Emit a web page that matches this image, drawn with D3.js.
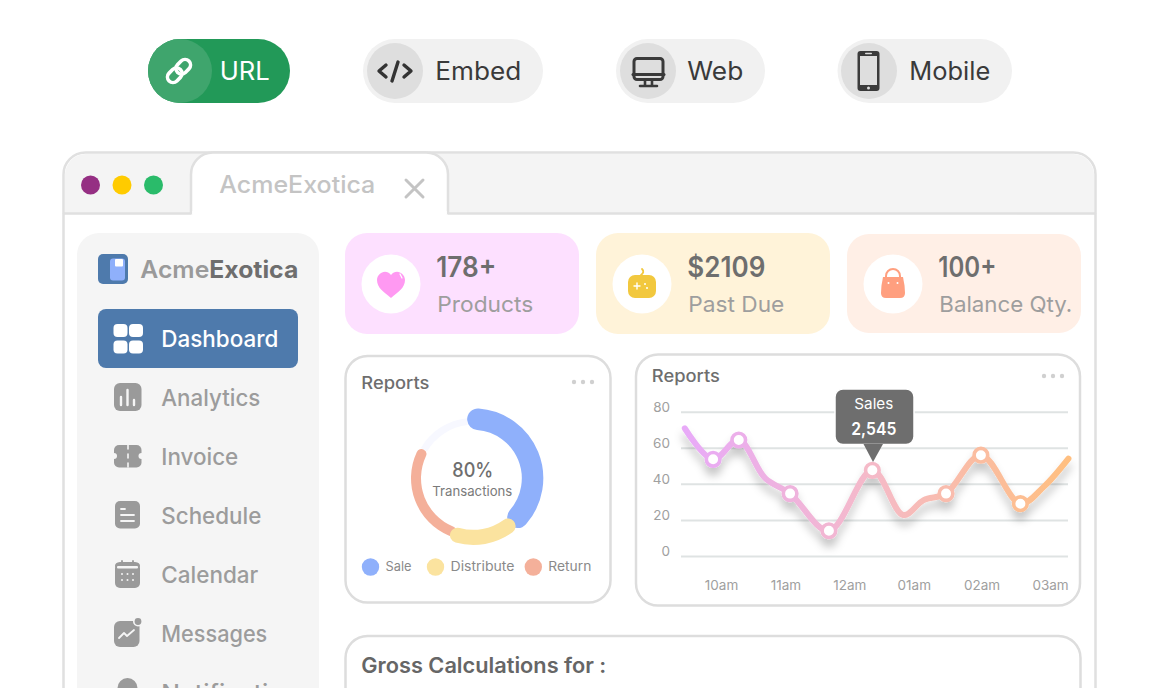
<!DOCTYPE html>
<html>
<head>
<meta charset="utf-8">
<script src="https://cdn.jsdelivr.net/npm/d3@7"></script>
<style>
body { margin: 0; background: #fff; overflow: hidden; }
text { font-family: Inter, "Open Sans", sans-serif; }
</style>
</head>
<body>
<script>
// line chart values (hour of day, sales)
var lineHours = [9.45, 9.88, 10.27, 10.67, 11.05, 11.64, 12.3, 12.77, 13.08, 13.42, 13.95, 14.55, 14.9, 15.28];
var lineValues = [70.8, 53.6, 64.3, 43.2, 34.6, 14, 47.5, 22.7, 31, 34.6, 55.9, 29, 38.2, 54];
var markerIndex = [1, 2, 4, 5, 6, 9, 10, 11];
var yTicks = [0, 20, 40, 60, 80];
var xTickHours = [10, 10.98, 11.95, 12.93, 13.96, 15];
var xTickLabels = ["10am", "11am", "12am", "01am", "02am", "03am"];

// donut values
var donutNames = ["Sale", "Distribute", "Return"];
var donutValues = [41, 17, 27, 15];

// text content
var buttonLabels = ["URL", "Embed", "Web", "Mobile"];
var navLabels = ["Dashboard", "Analytics", "Invoice", "Schedule", "Calendar", "Messages", "Notifications"];
var statValues = ["178+", "$2109", "100+"];
var statLabels = ["Products", "Past Due", "Balance Qty."];

var svg = d3.select("body").append("svg")
    .attr("width", 1160)
    .attr("height", 688)
    .style("display", "block");

var defs = svg.append("defs");

// helpers
function rect(g, x, y, w, h, r, fill, stroke, sw) {
    return g.append("rect")
        .attr("x", x).attr("y", y)
        .attr("width", w).attr("height", h)
        .attr("rx", r)
        .attr("fill", fill)
        .attr("stroke", stroke || "none")
        .attr("stroke-width", sw || 0);
}

function circle(g, x, y, r, fill) {
    return g.append("circle").attr("cx", x).attr("cy", y).attr("r", r).attr("fill", fill);
}

// the reference font is wider than what we have, so widths are pinned
function label(g, x, y, str, size, color, weight, width) {
    var t = g.append("text")
        .attr("x", x - 0.7).attr("y", y)
        .attr("font-size", size)
        .attr("font-weight", weight || 400)
        .attr("fill", color)
        .text(str);
    if (width) t.attr("textLength", width).attr("lengthAdjust", "spacingAndGlyphs");
    return t;
}

function path(g, d, fill, stroke, sw) {
    return g.append("path")
        .attr("d", d)
        .attr("fill", fill || "none")
        .attr("stroke", stroke || "none")
        .attr("stroke-width", sw || 0)
        .attr("stroke-linecap", "round")
        .attr("stroke-linejoin", "round");
}

// top buttons
var top_ = svg.append("g");
rect(top_, 148, 39, 142, 64, 32, "#229958");
path(top_, "M180,39 A32,32 0 0 0 180,103 A32,32 0 0 0 180,39 Z", "#3fa56d");
var buttonX = [220.5, 436, 688, 910];
var buttonW = [50, 86, 56, 81];
var pills = [[363, 180, 395], [616, 149, 648], [837.5, 174.5, 869]];
pills.forEach(function(p) {
    rect(top_, p[0], 39, p[1], 64, 32, "#f1f1f1");
    circle(top_, p[2], 71, 28, "#dedede");
});
buttonLabels.forEach(function(d, i) {
    label(top_, buttonX[i], 80, d, 25, i == 0 ? "#fff" : "#3a3a3a", 400, buttonW[i]);
});
// link icon
var link = top_.append("g").attr("transform", "translate(179,71) rotate(-45)");
rect(link, -14, -5.5, 16, 11, 5.5, "none", "#fff", 3.6);
rect(link, -2, -5.5, 16, 11, 5.5, "none", "#fff", 3.6);
// code icon
path(top_, "M386,65 L379,71 L386,77 M404,65 L411,71 L404,77 M398,62 L392,81", "none", "#333", 3.4);
// monitor icon
rect(top_, 634, 58.5, 29, 21, 3, "none", "#3a3a3a", 3);
path(top_, "M633,74.5 H664", "none", "#3a3a3a", 3);
path(top_, "M645,81 V85 M652,81 V85 M640,86 H657", "none", "#3a3a3a", 2.6);
// phone icon
rect(top_, 857.5, 51, 22, 40, 3, "#3a3a3a");
rect(top_, 860, 56, 17, 29, 0, "#dedede");
circle(top_, 868.5, 88, 1.5, "#dedede");
rect(top_, 865, 52.8, 7, 1.5, 0.7, "#dedede");

// browser window
var win = svg.append("g");
path(win, "M63.5,700 V175 A22,22 0 0 1 85.5,152.5 H1073.5 A22,22 0 0 1 1095.5,175 V700 Z", "#fff", "#e0e0e0", 2.5);
path(win, "M65,213 V175 A21,21 0 0 1 86,154 H1073 A21,21 0 0 1 1094,175 V213 Z", "#f4f4f4");
path(win, "M64,213.5 H1095", "none", "#e0e0e0", 2.5);
path(win, "M191,214.5 V175 A22,22 0 0 1 213,153 H426 A22,22 0 0 1 448,175 V214.5 Z", "#fff");
path(win, "M191,213 V175 A22,22 0 0 1 213,152.5 H426 A22,22 0 0 1 448,175 V213", "none", "#e0e0e0", 2.5);
rect(win, 192.3, 211, 254.4, 5, 0, "#fff");
circle(win, 90.5, 185, 9.5, "#952f83");
circle(win, 122, 185, 9.5, "#ffcb00");
circle(win, 153.5, 185, 9.5, "#2abb6a");
label(win, 220, 193, "AcmeExotica", 24, "#c4c4c4", 500, 156);
path(win, "M406,180 L423,197 M423,180 L406,197", "none", "#c4c4c4", 3);

// sidebar
var side = svg.append("g");
rect(side, 77, 233, 242, 480, 22, "#f5f5f5");
rect(side, 98, 254, 30, 30, 5, "#4e7aac");
rect(side, 110, 258.5, 15, 22, 3, "#8fb0fb");
rect(side, 115, 259, 8, 7.5, 1, "#fff");
label(side, 141, 278, "Acme", 24, "#9a9a9a", 600, 69);
label(side, 210, 278, "Exotica", 24, "#6e6e6e", 700, 89);
rect(side, 98, 309, 200, 59, 8, "#4e7aac");

var navBase = d3.scaleLinear().domain([0, 1]).range([347, 406]);
navLabels.forEach(function(d, i) {
    var widths = [117, 99, 77, 100, 97, 106, 150];
    label(side, 162, navBase(i), d, 23, i == 0 ? "#fff" : "#9c9c9c", 500, widths[i]);
});

// sidebar icons
[[113.5, 324], [129, 324], [113.5, 340.5], [129, 340.5]].forEach(function(p) {
    rect(side, p[0], p[1], 14, 13, 4, "#fff");
});
var grey = "#9a9a9a";
rect(side, 114, 383, 27.5, 28, 6, grey);
path(side, "M121,397 V405 M127.5,390 V405 M134,400 V405", "none", "#f5f5f5", 2.4);
rect(side, 114, 445, 27.5, 22.5, 5, grey);
circle(side, 114, 456, 3, "#f5f5f5");
circle(side, 141.5, 456, 3, "#f5f5f5");
path(side, "M128,445 V449 M128,454 V458 M128,463 V467", "none", "#f5f5f5", 1.6);
rect(side, 115, 501, 25, 27.5, 5, grey);
path(side, "M121,509 H125 M121,515 H134 M121,521 H134", "none", "#f5f5f5", 1.8);
rect(side, 115, 563, 25, 25, 5, grey);
path(side, "M116,566 A5,3 0 0 1 120,563 H135 A5,3 0 0 1 139,566", "none", grey, 2);
path(side, "M122,561 V565 M133,561 V565", "none", grey, 1.8);
rect(side, 117, 566, 21, 2.5, 1, "#f5f5f5");
[[122, 574], [127.5, 574], [133, 574], [122, 580], [127.5, 580], [133, 580]].forEach(function(p) {
    circle(side, p[0], p[1], 1, "#f5f5f5");
});
rect(side, 114, 621, 25.5, 26, 6, grey);
circle(side, 138, 621.5, 5, "#f5f5f5");
circle(side, 138, 621.5, 3.4, grey);
path(side, "M119,638 L124,633 L127,636 L134,630", "none", "#f5f5f5", 1.8);
circle(side, 127.5, 688, 10, grey);

// stat cards
var cardX = [345, 596, 847];
var cardFill = ["#fde0ff", "#fff3d9", "#ffefe6"];
var valueW = [60, 78, 58];
var nameW = [96, 96, 133];
var stats = svg.append("g");
cardX.forEach(function(x, i) {
    rect(stats, x, i == 2 ? 234 : 233, 234, i == 2 ? 99 : 101, 22, cardFill[i]);
    circle(stats, x + 46, 284, 29.5, "#fff");
    label(stats, x + 92, 277, statValues[i], 28, "#6e6e6e", 600, valueW[i]);
    label(stats, x + 93, 312, statLabels[i], 22, "#9e9e9e", 400, nameW[i]);
});
path(stats, "M391,298 C384,292 377,288 377,280 C377,273 386,268 391,275 C396,268 405,273 405,280 C405,288 398,292 391,298 Z", "#ff99f2");
path(stats, "M400,274 L402,278", "none", "#fff", 1.2);
rect(stats, 628, 275, 28, 23, 7, "#f2c83e");
path(stats, "M641,275 Q645,272 642,269", "none", "#f2c83e", 1.8);
path(stats, "M634,286 H640 M637,283 V289", "none", "#fff", 1.4);
circle(stats, 645, 284, 1, "#fff");
circle(stats, 647, 288, 1, "#fff");
path(stats, "M886,280 V276 A7,7 0 0 1 900,276 V280", "none", "#ff9f7f", 2);
path(stats, "M883,277 H903 Q905,286 905,293 Q905,298 900,298 H886 Q881,298 881,293 Q881,286 883,277 Z", "#ff9f7f");
circle(stats, 888.5, 283, 1, "#fff");
circle(stats, 897.5, 283, 1, "#fff");

// panels
function panel(x, y, w, h, title, titleY, dotsX, dotsY) {
    var g = svg.append("g");
    rect(g, x, y, w, h, 22, "#fff", "#dddddd", 2.5);
    label(g, x + 16.5, titleY, title, 17, "#6e6e6e", 500, 68);
    [0, 9, 18].forEach(function(dx) {
        circle(g, dotsX + dx, dotsY, 2.2, "#d0d0d0");
    });
    return g;
}

// donut
var donutPanel = panel(345.5, 356, 265, 246.5, "Reports", 389, 574, 382);
var donutG = donutPanel.append("g").attr("transform", "translate(473.3,478.3)");
var donutColor = ["#8fb0fb", "#fbe39f", "#f4b09a", "#f7f8ff"];
var inner = [48.5, 51.5, 52.3, 53.5];
var outer = [70, 66.7, 62.3, 60.5];
var startOverlap = [0, 5, 5, 0];
var slices = d3.pie().sort(null).startAngle(-6 * Math.PI / 180).endAngle(354 * Math.PI / 180)(donutValues);
[3, 2, 0, 1].forEach(function(i) {
    var s = slices[i];
    donutG.append("path")
        .attr("d", d3.arc()
            .innerRadius(inner[i])
            .outerRadius(outer[i])
            .cornerRadius(i == 3 ? 0 : (outer[i] - inner[i]) / 2)
            .startAngle(s.startAngle - startOverlap[i] * Math.PI / 180)
            .endAngle(s.endAngle)())
        .attr("fill", donutColor[i]);
});
label(donutPanel, 453, 477, "80%", 20, "#6e6e6e", 500, 41);
label(donutPanel, 433, 496, "Transactions", 13.5, "#7a7a7a", 400, 80);
var legendX = [370.5, 435.5, 533.3];
var legendW = [26, 64, 43];
donutNames.forEach(function(d, i) {
    circle(donutPanel, legendX[i], 567, 8.7, donutColor[i]);
    label(donutPanel, legendX[i] + 15.7, 571, d, 13, "#8a8a8a", 400, legendW[i]);
});

// line chart
var linePanel = panel(636, 354.5, 444, 251, "Reports", 382, 1044, 376);

var x = d3.scaleLinear().domain([10, 15]).range([721, 1050]);
var y = d3.scaleLinear().domain([0, 80]).range([556, 411.7]);

var yAxis = d3.axisLeft(y).tickValues(yTicks).tickSize(-387).tickPadding(11);
var yG = linePanel.append("g").attr("transform", "translate(681,0)").call(yAxis);
yG.select(".domain").remove();
yG.selectAll("line").attr("stroke", "#dfe3e3").attr("stroke-width", 2);
yG.selectAll("text")
    .attr("dy", "-0.02em")
    .attr("font-size", 13.5)
    .attr("font-family", "Inter, sans-serif")
    .attr("fill", "#a0a0a0");

var xAxis = d3.axisBottom(x).tickValues(xTickHours).tickSize(0).tickPadding(0)
    .tickFormat(function(d, i) { return xTickLabels[i]; });
var xG = linePanel.append("g").attr("transform", "translate(0,580)").call(xAxis);
xG.select(".domain").remove();
xG.selectAll("text")
    .attr("font-size", 13.5)
    .attr("font-family", "Inter, sans-serif")
    .attr("fill", "#a0a0a0");

var lineColor = d3.scaleLinear()
    .domain([9.45, 12.3, 15.28])
    .range(["#e8aaf8", "#f5bac8", "#ffbf80"]);

var grad = defs.append("linearGradient")
    .attr("id", "lineGrad")
    .attr("gradientUnits", "userSpaceOnUse")
    .attr("x1", x(9.45)).attr("x2", x(15.28))
    .attr("y1", 0).attr("y2", 0);
[9.45, 12.3, 15.28].forEach(function(h) {
    grad.append("stop")
        .attr("offset", (x(h) - x(9.45)) / (x(15.28) - x(9.45)))
        .attr("stop-color", lineColor(h));
});

var shadow = defs.append("filter")
    .attr("id", "lineShadow")
    .attr("filterUnits", "userSpaceOnUse")
    .attr("x", 660).attr("y", 400).attr("width", 430).attr("height", 180);
shadow.append("feDropShadow")
    .attr("dx", 0).attr("dy", 8)
    .attr("stdDeviation", 4.5)
    .attr("flood-color", "#000")
    .attr("flood-opacity", 0.22);

var lineGen = d3.line()
    .x(function(d) { return x(d[0]); })
    .y(function(d) { return y(d[1]); })
    .curve(d3.curveCatmullRom.alpha(0.5));

var pts = d3.zip(lineHours, lineValues);
var plot = linePanel.append("g").attr("filter", "url(#lineShadow)");
plot.append("path")
    .attr("d", lineGen(pts))
    .attr("fill", "none")
    .attr("stroke", "url(#lineGrad)")
    .attr("stroke-width", 6)
    .attr("stroke-linecap", "round");

plot.selectAll("circle")
    .data(markerIndex)
    .enter().append("circle")
    .attr("cx", function(i) { return x(lineHours[i]); })
    .attr("cy", function(i) { return y(lineValues[i]); })
    .attr("r", 6.8)
    .attr("fill", "#fff")
    .attr("stroke", function(i) { return lineColor(lineHours[i]); })
    .attr("stroke-width", 3.6);

// tooltip
var tip = svg.append("g");
rect(tip, 835, 389, 79, 55.5, 8, "#6e6e6e", "#fff", 1.5);
path(tip, "M863.5,444 H883 L873,462 Z", "#6e6e6e");
label(tip, 855, 409, "Sales", 15, "#fff", 400, 39);
label(tip, 852, 435, "2,545", 17.5, "#fff", 600, 45);

// bottom panel
var gross = svg.append("g");
rect(gross, 345.5, 636, 735, 80, 22, "#fff", "#dddddd", 2.5);
label(gross, 362, 673, "Gross Calculations for :", 21, "#666", 600, 245);
</script>
</body>
</html>
